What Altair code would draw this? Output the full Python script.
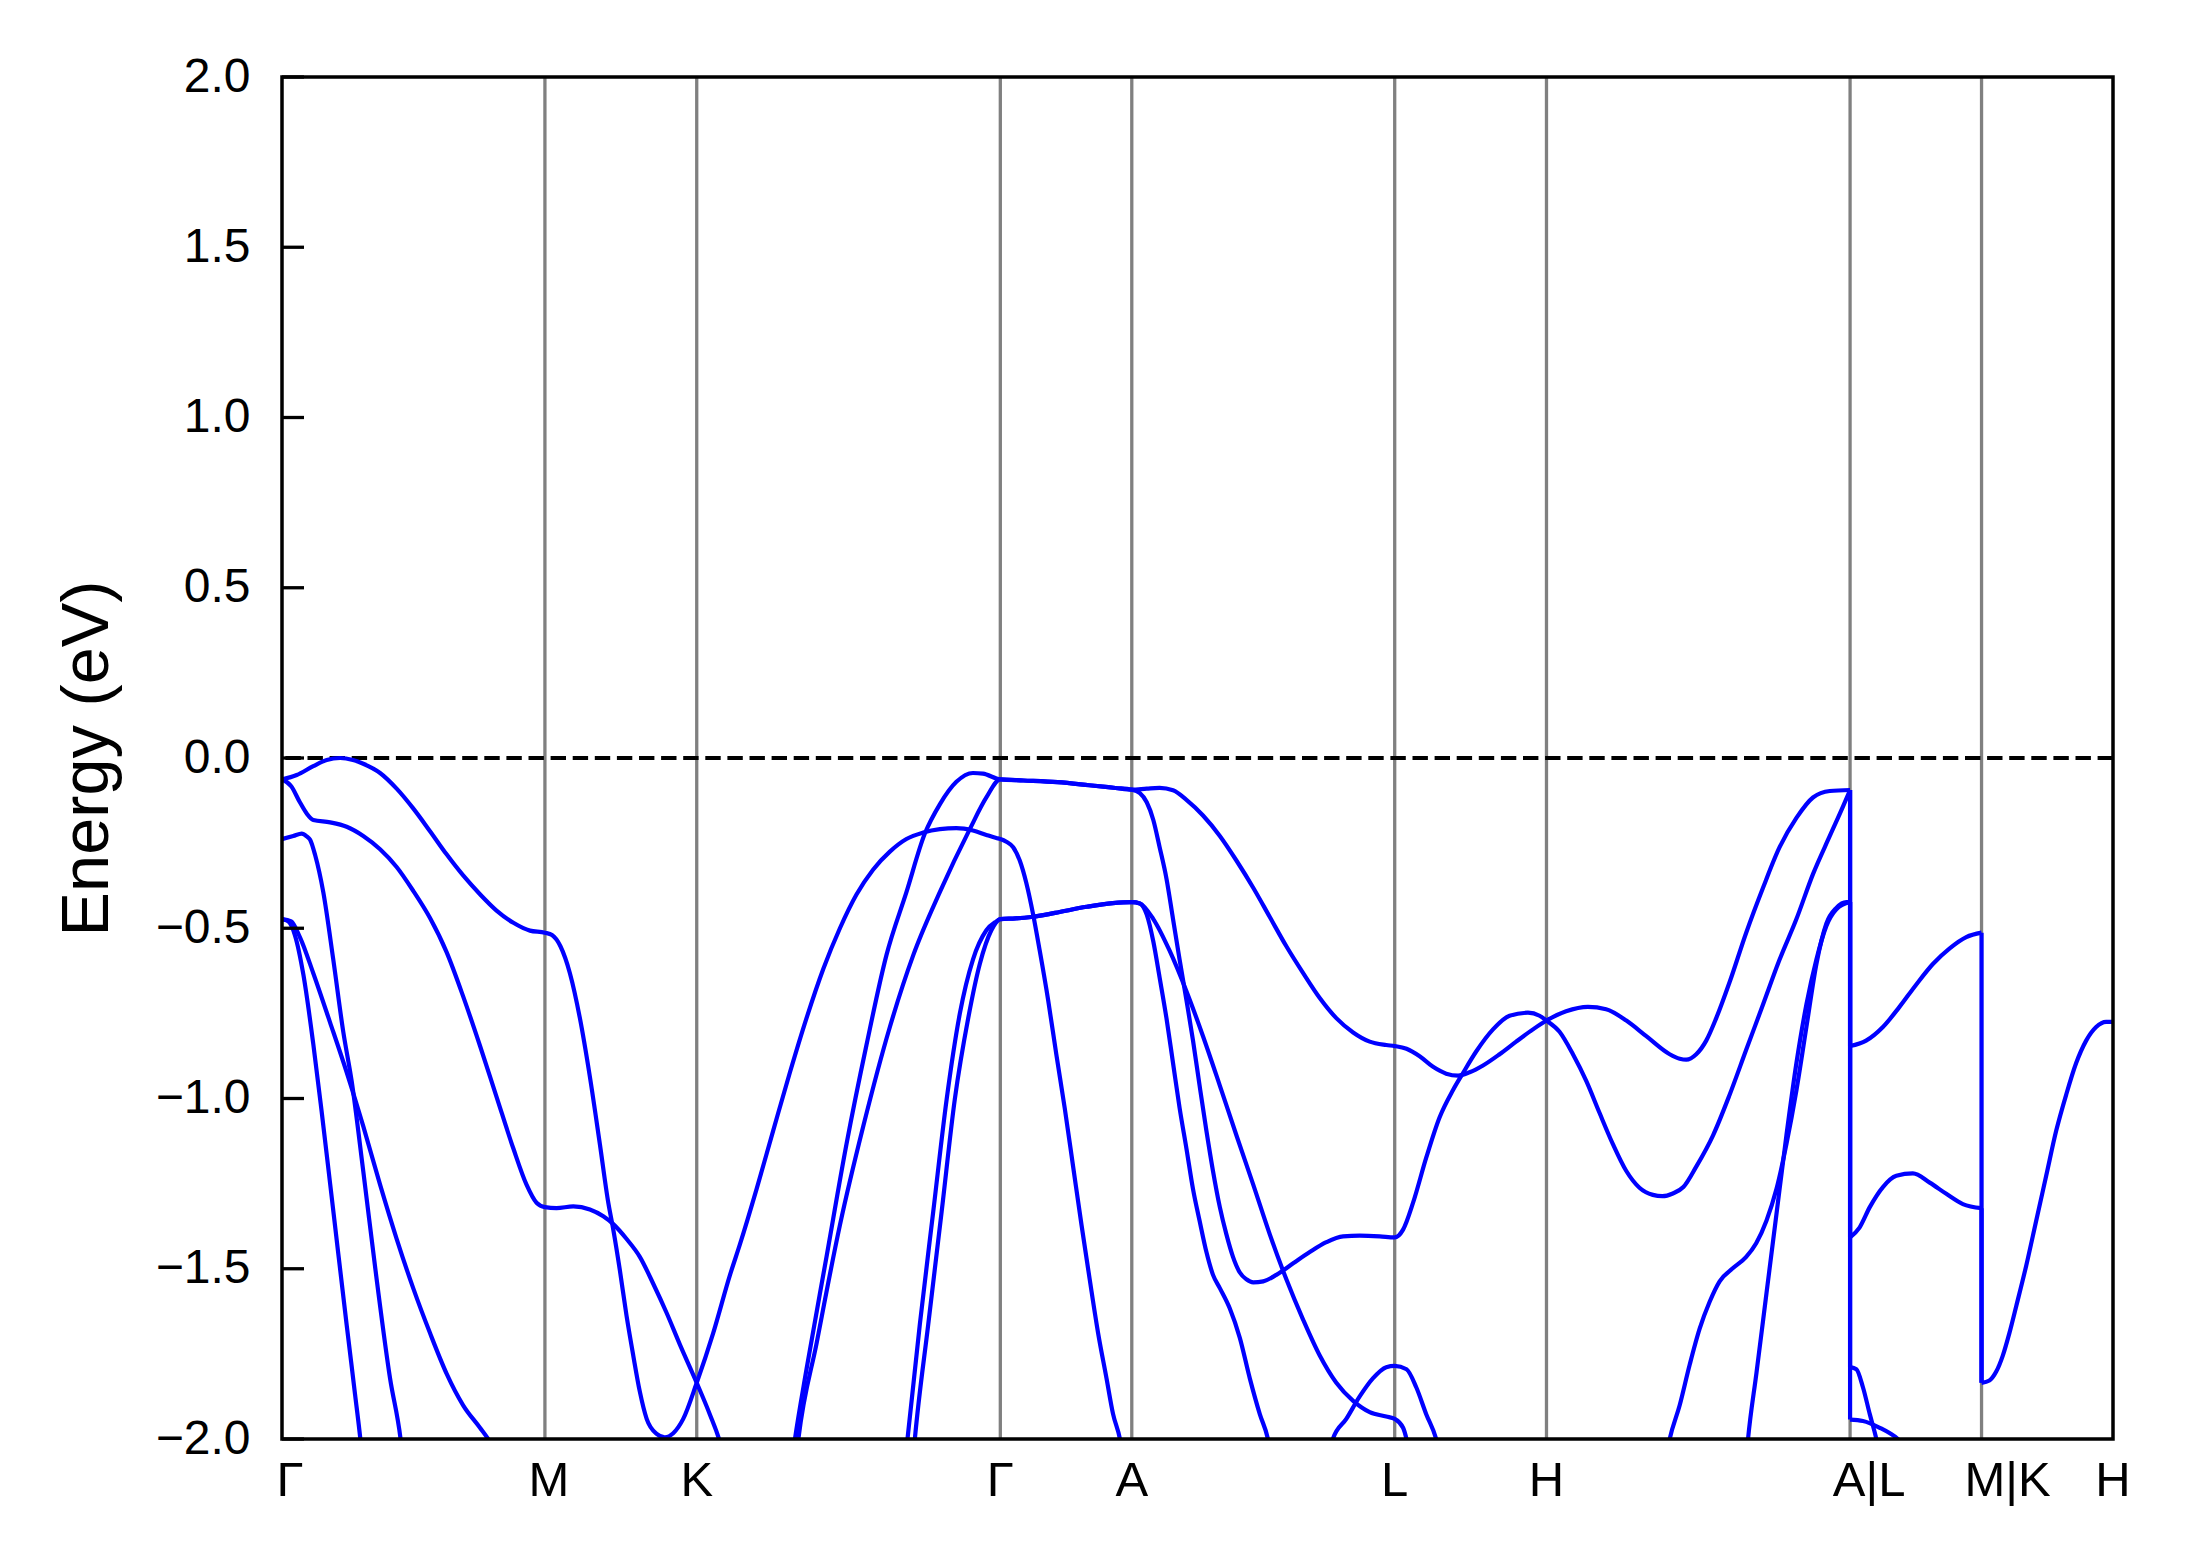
import altair as alt
import pandas as pd

# ---------------- data ----------------
kpt_pos = [0.0, 1.0, 1.5774, 2.7321, 3.2321, 4.2321, 4.8094, 5.9641, 6.4641, 6.9641]
kpt_lab = ["Γ", "M", "K", "Γ", "A", "L", "H", "A|L", "M|K", "H"]
ytick_vals = [-2.0, -1.5, -1.0, -0.5, 0.0, 0.5, 1.0, 1.5, 2.0]

# band segments: (k, E in eV)
seg_b1 = [(0.0, -0.063), (0.056, -0.050), (0.119, -0.024), (0.17, -0.006), (0.221, 0.0), (0.27, -0.006),
          (0.309, -0.017), (0.373, -0.044), (0.436, -0.090), (0.499, -0.148), (0.563, -0.215), (0.626, -0.283),
          (0.689, -0.345), (0.753, -0.400), (0.816, -0.448), (0.880, -0.484), (0.943, -0.507), (1.0, -0.513),
          (1.027, -0.520), (1.059, -0.553), (1.095, -0.632), (1.133, -0.764), (1.171, -0.936), (1.209, -1.134),
          (1.241, -1.306), (1.260, -1.385), (1.285, -1.504), (1.310, -1.636), (1.336, -1.755), (1.361, -1.861),
          (1.387, -1.941), (1.425, -1.985), (1.456, -1.995), (1.488, -1.983), (1.526, -1.941), (1.5774, -1.835),
          (1.640, -1.689), (1.704, -1.518), (1.741, -1.43), (1.805, -1.266), (1.868, -1.095), (1.932, -0.923),
          (1.995, -0.764), (2.059, -0.619), (2.122, -0.500), (2.185, -0.401), (2.248, -0.328), (2.312, -0.275),
          (2.375, -0.238), (2.439, -0.219), (2.502, -0.209), (2.565, -0.206), (2.628, -0.213), (2.679, -0.226),
          (2.717, -0.235), (2.7321, -0.238), (2.755, -0.246), (2.781, -0.262), (2.806, -0.301), (2.831, -0.367),
          (2.857, -0.460), (2.882, -0.566), (2.914, -0.711), (2.945, -0.870), (2.977, -1.028), (3.009, -1.200),
          (3.041, -1.372), (3.072, -1.531), (3.104, -1.689), (3.136, -1.822), (3.161, -1.927), (3.187, -2.0),
          (3.20, -2.06)]
seg_b2 = [(0.0, -0.063), (0.035, -0.083), (0.068, -0.130), (0.094, -0.163), (0.119, -0.182), (0.183, -0.189),
          (0.246, -0.202), (0.309, -0.229), (0.373, -0.268), (0.436, -0.320), (0.499, -0.39), (0.563, -0.47),
          (0.626, -0.57), (0.689, -0.70), (0.753, -0.845), (0.816, -0.995), (0.880, -1.147), (0.930, -1.253),
          (0.968, -1.306), (1.0, -1.319), (1.044, -1.322), (1.108, -1.317), (1.171, -1.326), (1.222, -1.346),
          (1.260, -1.369), (1.310, -1.412), (1.361, -1.465), (1.412, -1.544), (1.463, -1.630), (1.513, -1.722),
          (1.5774, -1.835), (1.627, -1.927), (1.665, -2.007), (1.68, -2.05)]
seg_b3 = [(0.0, -0.238), (0.043, -0.229), (0.075, -0.222), (0.094, -0.230), (0.107, -0.240), (0.126, -0.285),
          (0.157, -0.394), (0.195, -0.592), (0.233, -0.804), (0.265, -0.949), (0.309, -1.213), (0.360, -1.531),
          (0.411, -1.822), (0.451, -2.0), (0.46, -2.06)]
seg_b4 = [(0.0, -0.473), (0.024, -0.480), (0.049, -0.520), (0.081, -0.635), (0.119, -0.84), (0.151, -1.04),
          (0.183, -1.25), (0.214, -1.455), (0.246, -1.665), (0.278, -1.87), (0.298, -2.0), (0.302, -2.03)]
seg_b5 = [(0.0, -0.473), (0.035, -0.480), (0.068, -0.526), (0.119, -0.632), (0.183, -0.777), (0.246, -0.923),
          (0.309, -1.081), (0.373, -1.253), (0.436, -1.412), (0.499, -1.557), (0.563, -1.689), (0.626, -1.808),
          (0.689, -1.901), (0.753, -1.967), (0.784, -2.0), (0.80, -2.02)]

seg_p2 = [(1.94, -2.06), (1.951, -2.0), (1.995, -1.795), (2.071, -1.465), (2.147, -1.134), (2.223, -0.843),
          (2.299, -0.579), (2.375, -0.394), (2.445, -0.222), (2.502, -0.136), (2.565, -0.070), (2.628, -0.044),
          (2.666, -0.046), (2.7321, -0.063)]
seg_p3 = [(1.955, -2.06), (1.964, -2.0), (2.034, -1.716), (2.122, -1.372), (2.211, -1.081), (2.312, -0.790),
          (2.401, -0.579), (2.502, -0.394), (2.616, -0.209), (2.679, -0.116), (2.7321, -0.063)]
seg_p4 = [(2.37, -2.06), (2.379, -2.0), (2.426, -1.663), (2.477, -1.332), (2.528, -1.002), (2.578, -0.751),
          (2.628, -0.592), (2.679, -0.506), (2.717, -0.480), (2.7321, -0.473)]
seg_p5 = [(2.40, -2.06), (2.407, -2.0), (2.458, -1.663), (2.509, -1.332), (2.559, -1.002), (2.610, -0.764),
          (2.654, -0.605), (2.698, -0.506), (2.7321, -0.473)]
seg_ga_top = [(2.82, -0.066), (2.95, -0.071), (3.07, -0.080), (3.17, -0.088), (3.2321, -0.093)]
seg_ga_low = [(2.79, -0.471), (2.85, -0.467), (2.94, -0.455), (3.06, -0.437), (3.16, -0.426), (3.2321, -0.423)]

seg_t1 = [(3.289, -0.090), (3.338, -0.088), (3.389, -0.095), (3.440, -0.123), (3.503, -0.169), (3.567, -0.229),
          (3.630, -0.301), (3.694, -0.381), (3.757, -0.467), (3.820, -0.553), (3.884, -0.632), (3.947, -0.705),
          (4.010, -0.764), (4.074, -0.806), (4.137, -0.833), (4.200, -0.843), (4.2321, -0.846)]
seg_t2 = [(3.263, -0.103), (3.289, -0.130), (3.314, -0.182), (3.338, -0.262), (3.364, -0.354), (3.389, -0.473),
          (3.414, -0.592), (3.440, -0.711), (3.465, -0.830), (3.490, -0.962), (3.516, -1.095), (3.541, -1.213),
          (3.567, -1.319), (3.592, -1.399), (3.617, -1.465), (3.643, -1.511), (3.668, -1.531), (3.694, -1.540),
          (3.732, -1.537), (3.782, -1.518), (3.846, -1.484), (3.909, -1.451), (3.972, -1.422), (4.036, -1.405),
          (4.099, -1.403), (4.175, -1.405), (4.2321, -1.408)]
seg_t3 = [(3.263, -0.427), (3.314, -0.473), (3.376, -0.566), (3.440, -0.685), (3.503, -0.817), (3.567, -0.962),
          (3.630, -1.108), (3.694, -1.253), (3.757, -1.399), (3.820, -1.531), (3.884, -1.650), (3.947, -1.755),
          (4.010, -1.835), (4.074, -1.888), (4.137, -1.921), (4.200, -1.934), (4.2321, -1.941), (4.264, -1.967),
          (4.279, -2.007), (4.29, -2.05)]
seg_t4 = [(3.263, -0.427), (3.289, -0.460), (3.314, -0.539), (3.338, -0.645), (3.364, -0.764), (3.389, -0.896),
          (3.414, -1.028), (3.440, -1.147), (3.465, -1.266), (3.490, -1.359), (3.516, -1.451), (3.541, -1.518),
          (3.567, -1.557), (3.605, -1.617), (3.643, -1.703), (3.681, -1.822), (3.719, -1.927), (3.750, -2.0),
          (3.76, -2.04)]
seg_u = [(3.99, -2.03), (3.997, -2.0), (4.048, -1.941), (4.099, -1.875), (4.149, -1.822), (4.200, -1.789),
         (4.2321, -1.785), (4.277, -1.795), (4.314, -1.848), (4.352, -1.927), (4.390, -2.0), (4.40, -2.03)]

seg_r1 = [(4.277, -0.854), (4.327, -0.876), (4.378, -0.907), (4.428, -0.927), (4.473, -0.933), (4.517, -0.923),
          (4.568, -0.903), (4.631, -0.870), (4.694, -0.833), (4.758, -0.797), (4.8094, -0.771), (4.884, -0.744),
          (4.967, -0.731), (5.036, -0.738), (5.113, -0.771), (5.189, -0.817), (5.278, -0.870)]
seg_r2 = [(4.264, -1.385), (4.302, -1.306), (4.352, -1.174), (4.403, -1.055), (4.454, -0.975), (4.492, -0.925),
          (4.542, -0.862), (4.606, -0.797), (4.669, -0.757), (4.739, -0.748), (4.783, -0.757), (4.8094, -0.771),
          (4.859, -0.804), (4.910, -0.870), (4.961, -0.949), (5.011, -1.042), (5.062, -1.134), (5.113, -1.213),
          (5.163, -1.262), (5.214, -1.283), (5.250, -1.287), (5.290, -1.279)]
seg_q1 = [(5.316, -0.883), (5.341, -0.886), (5.379, -0.870), (5.417, -0.830), (5.455, -0.764), (5.506, -0.658),
          (5.569, -0.513), (5.633, -0.381), (5.696, -0.262), (5.760, -0.176), (5.823, -0.116), (5.887, -0.097),
          (5.9641, -0.094)]
seg_q2 = [(5.330, -1.260), (5.379, -1.200), (5.443, -1.108), (5.506, -0.989), (5.569, -0.857), (5.633, -0.724),
          (5.696, -0.592), (5.760, -0.473), (5.823, -0.341), (5.887, -0.229), (5.937, -0.143), (5.9641, -0.094)]
seg_q3 = [(5.265, -2.05), (5.278, -2.0), (5.316, -1.901), (5.354, -1.782), (5.392, -1.676), (5.430, -1.597),
          (5.468, -1.537), (5.519, -1.498), (5.569, -1.465), (5.607, -1.425), (5.646, -1.359), (5.684, -1.266),
          (5.722, -1.134), (5.760, -0.976), (5.798, -0.790), (5.836, -0.605), (5.874, -0.486), (5.912, -0.440),
          (5.950, -0.423), (5.9641, -0.423)]
seg_q4 = [(5.57, -2.05), (5.576, -2.0), (5.608, -1.806), (5.646, -1.573), (5.684, -1.340), (5.722, -1.108),
          (5.760, -0.896), (5.798, -0.724), (5.836, -0.592), (5.874, -0.493), (5.912, -0.444), (5.9641, -0.423)]

seg_s1 = [(5.9641, -0.846), (6.025, -0.830), (6.089, -0.790), (6.152, -0.731), (6.216, -0.665), (6.279, -0.605),
          (6.343, -0.559), (6.406, -0.526), (6.4641, -0.513)]
seg_s2 = [(5.9641, -1.408), (6.000, -1.379), (6.039, -1.319), (6.089, -1.260), (6.140, -1.227), (6.203, -1.220),
          (6.267, -1.247), (6.330, -1.280), (6.393, -1.310), (6.4641, -1.322), (6.4641, -1.835)]
seg_s3 = [(5.9641, -1.789), (5.988, -1.795), (6.013, -1.848), (6.039, -1.927), (6.064, -2.0), (6.075, -2.04)]
seg_s4 = [(5.9641, -1.943), (6.013, -1.947), (6.077, -1.967), (6.146, -2.0), (6.16, -2.01)]
seg_kh = [(6.4641, -1.835), (6.494, -1.828), (6.520, -1.802), (6.545, -1.755), (6.570, -1.689), (6.596, -1.610),
          (6.634, -1.491), (6.672, -1.359), (6.710, -1.227), (6.748, -1.095), (6.786, -0.989), (6.824, -0.896),
          (6.862, -0.830), (6.900, -0.790), (6.938, -0.775), (6.9641, -0.775)]

bands = {
    "b1": seg_b1,
    "b2": seg_b2,
    "b3": seg_b3,
    "b4": seg_b4,
    "b5": seg_b5,
    "b6": seg_p2 + seg_ga_top + seg_t1 + seg_r1 + seg_q1 + seg_s1 + seg_kh,
    "b7": seg_p3 + seg_ga_top + seg_t2 + seg_r2 + seg_q2 + seg_s2,
    "b8": seg_p4 + seg_ga_low + seg_t3,
    "b9": seg_p5 + seg_ga_low + seg_t4,
    "b10": seg_u,
    "b11": seg_q3 + seg_s3,
    "b12": seg_q4 + seg_s4,
}

# split each band into smooth pieces and vertical jumps at the path breaks
smooth_rows, jump_rows = [], []
for name, pts in bands.items():
    pieces, cur = [], [pts[0]]
    jumps = []
    for p, q in zip(pts[:-1], pts[1:]):
        if q[0] == p[0]:
            pieces.append(cur)
            jumps.append([p, q])
            cur = [q]
        else:
            cur.append(q)
    pieces.append(cur)
    for j, pc in enumerate(pieces):
        if len(pc) < 2:
            continue
        for i, (k, e) in enumerate(pc):
            smooth_rows.append({"piece": f"{name}_{j}", "i": i, "k": k, "E": e})
    for j, jp in enumerate(jumps):
        for i, (k, e) in enumerate(jp):
            jump_rows.append({"piece": f"{name}_j{j}", "i": i, "k": k, "E": e})
smooth_df = pd.DataFrame(smooth_rows)
jump_df = pd.DataFrame(jump_rows)

vline_df = pd.DataFrame({"k": kpt_pos[1:-1]})
lab_df = pd.DataFrame({"idx": list(range(len(kpt_pos))), "k": kpt_pos, "lab": kpt_lab})
ytick_df = pd.DataFrame({"E": ytick_vals})
zero_df = pd.DataFrame({"E": [0.0]})
frame_df = pd.DataFrame({"a": [0]})

# ---------------- chart ----------------
W, H = 1831, 1362
FONT = "Liberation Sans"
BLUE = "#0000ff"
LW = 4.2
xs = alt.Scale(domain=[0, 6.9641], nice=False, zero=False)
ys = alt.Scale(domain=[-2, 2], nice=False, zero=False)
y_axis = alt.Axis(values=ytick_vals, format=".1f", labelFont=FONT, labelFontSize=48, labelColor="black",
                  labelPadding=32, ticks=False, tickSize=0, domain=False, grid=False,
                  labelFlush=False, labelOverlap=False,
                  title="Energy (eV)", titleFont=FONT, titleFontSize=66.7, titleFontWeight="normal",
                  titleColor="black", titleX=-175, titleY=H / 2, titleAngle=270, titleAlign="center",
                  titleBaseline="alphabetic")

vlines = alt.Chart(vline_df).mark_rule(color="#808080", strokeWidth=3.3).encode(
    x=alt.X("k:Q", scale=xs, axis=None))

zero = alt.Chart(zero_df).mark_rule(color="black", strokeWidth=4.2, strokeDash=[15.4, 6.7]).encode(
    y=alt.Y("E:Q", scale=ys, axis=y_axis))

lines = alt.Chart(smooth_df).mark_line(color=BLUE, strokeWidth=LW, clip=True, interpolate="monotone").encode(
    x=alt.X("k:Q", scale=xs, axis=None),
    y=alt.Y("E:Q", scale=ys, axis=y_axis),
    detail="piece:N",
    order=alt.Order("i:Q"),
)

jumps = alt.Chart(jump_df).mark_line(color=BLUE, strokeWidth=LW, clip=True).encode(
    x=alt.X("k:Q", scale=xs, axis=None),
    y=alt.Y("E:Q", scale=ys, axis=y_axis),
    detail="piece:N",
    order=alt.Order("i:Q"),
)

yticks = alt.Chart(ytick_df).mark_rule(color="black", strokeWidth=3.3).encode(
    y=alt.Y("E:Q", scale=ys, axis=y_axis), x=alt.value(0), x2=alt.value(22))

frame = alt.Chart(frame_df).mark_rect(filled=False, color="black", strokeWidth=3.5).encode(
    x=alt.value(0), x2=alt.value(W), y=alt.value(0), y2=alt.value(H))

label_dx = {0: 8, 1: 4, 7: 19, 8: 26}


def label_layer(filter_expr, dx=0):
    return alt.Chart(lab_df).transform_filter(filter_expr).mark_text(
        baseline="top", align="center", fontSize=49, font=FONT, color="black", dx=dx).encode(
        x=alt.X("k:Q", scale=xs, axis=None), y=alt.value(H + 18), text="lab:N")


label_layers = [label_layer("indexof([0, 1, 7, 8], datum.idx) < 0")]
for idx, dx in label_dx.items():
    label_layers.append(label_layer(f"datum.idx == {idx}", dx))

chart = alt.layer(vlines, zero, lines, jumps, yticks, frame, *label_layers).properties(
    width=W, height=H,
    padding={"left": 274, "top": 69, "right": 60, "bottom": 110},
    autosize=alt.AutoSizeParams(type="none"),
    background="white",
).configure_view(stroke=None)

chart.save("out.html", embed_options={"renderer": "svg", "actions": False})
